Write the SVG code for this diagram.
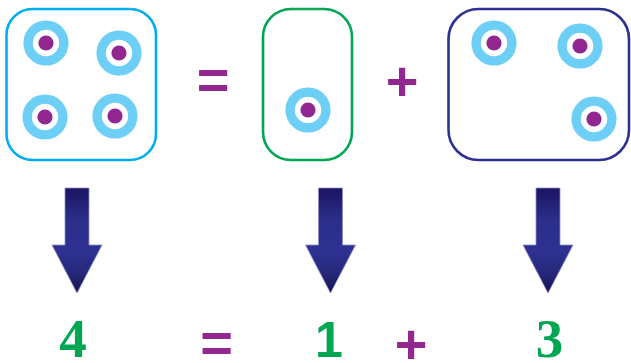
<svg xmlns="http://www.w3.org/2000/svg" xmlns:xlink="http://www.w3.org/1999/xlink" width="631" height="363" viewBox="0 0 631 363">
<style>
.box{fill:#fff;stroke-width:2.6}
.op{font-family:"Liberation Sans",Arial,sans-serif;font-weight:bold;font-size:56px;fill:#92278f;text-anchor:middle}
.num{font-family:"Liberation Serif","Times New Roman",serif;font-weight:bold;font-size:55px;fill:#00a651;text-anchor:middle}
.arrow{fill:url(#ag);stroke:#8c8fc4;stroke-width:0.8}
</style>
<defs>
<linearGradient id="ag" x1="0" y1="0" x2="0" y2="1">
<stop offset="0" stop-color="#1a1460"/>
<stop offset="0.3" stop-color="#2b2e8a"/>
<stop offset="0.6" stop-color="#2e3192"/>
<stop offset="0.82" stop-color="#252878"/>
<stop offset="1" stop-color="#140f4e"/>
</linearGradient>
<g id="dot">
<circle r="22.6" fill="#6dcff6"/>
<circle r="13.2" fill="#fff"/>
<circle r="7.6" fill="#92278f"/>
</g>
<polygon id="arr" points="-12,0 12,0 12,57 25,57 0,105 -25,57 -12,57"/>
</defs>

<g id="box-four">
<rect class="box" x="6.5" y="9" width="149.5" height="151" rx="26" stroke="#00aeef"/>
<use xlink:href="#dot" x="46" y="43"/>
<use xlink:href="#dot" x="119" y="53"/>
<use xlink:href="#dot" x="45" y="117"/>
<use xlink:href="#dot" x="115" y="116"/>
</g>

<g id="op-equals-top"><text class="op" x="213" y="99">=</text></g>

<g id="box-one">
<rect class="box" x="263" y="9" width="89" height="151" rx="28" stroke="#00a651"/>
<use xlink:href="#dot" x="308" y="110"/>
</g>

<g id="op-plus-top"><text class="op" x="402" y="100">+</text></g>

<g id="box-three">
<rect class="box" x="448.5" y="9" width="180.5" height="151" rx="30" stroke="#2e3192"/>
<use xlink:href="#dot" x="494" y="43"/>
<use xlink:href="#dot" x="580" y="46"/>
<use xlink:href="#dot" x="594" y="119"/>
</g>

<g id="connectors">
<use class="arrow" xlink:href="#arr" x="77" y="188"/>
<use class="arrow" xlink:href="#arr" x="330.5" y="188"/>
<use class="arrow" xlink:href="#arr" x="548" y="188"/>
</g>

<g id="num-four"><text class="num" x="73" y="357">4</text></g>
<g id="op-equals-bottom"><text class="op" x="216.5" y="362">=</text></g>
<g id="num-one"><text class="num" x="329" y="357" style="font-family:'Liberation Sans',Arial,sans-serif;font-size:50px">1</text></g>
<g id="op-plus-bottom"><text class="op" x="411" y="363">+</text></g>
<g id="num-three"><text class="num" x="549.5" y="357">3</text></g>
</svg>
